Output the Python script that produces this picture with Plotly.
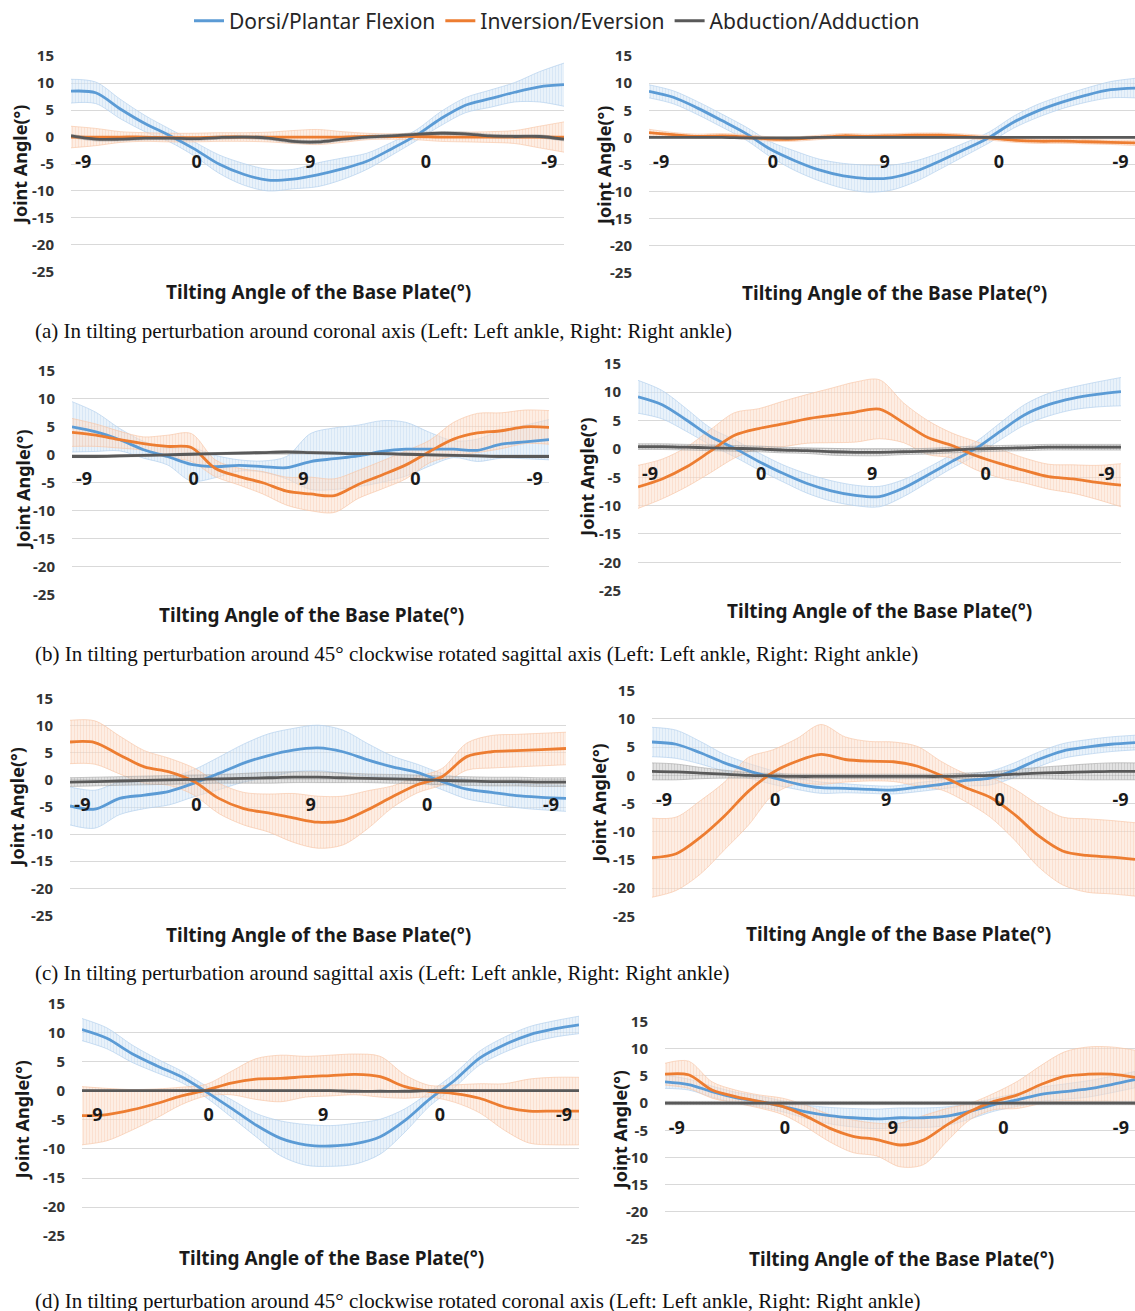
import plotly.graph_objects as go

W, H = 1135, 1321   # figure is a little taller than the window; the photo maps page y in [-9, 1321]

# ---------------- data (percent of perturbation cycle) ----------------
X = [0, 5, 10, 15, 20, 25, 30, 35, 40, 45, 50, 55, 60, 65, 70, 75, 80, 85, 90, 95, 100]
TICK_VALS = [2.5, 25.5, 48.5, 72, 97]
TICK_TEXT = ["-9", "0", "9", "0", "-9"]
SERIES = ["Dorsi/Plantar Flexion", "Inversion/Eversion", "Abduction/Adduction"]
Y_TICKS = [15, 10, 5, 0, -5, -10, -15, -20, -25]

# (a) coronal axis - left ankle
a_l_dpf = [8.5, 8.2, 5.2, 2.5, 0.3, -2.2, -5.0, -6.9, -8.0, -7.8, -7.0, -5.9, -4.5, -2.2, 0.3, 3.4, 5.9, 7.1, 8.3, 9.3, 9.7]
a_l_dpf_sd = [2.2, 2.0, 1.8, 1.5, 1.2, 1.3, 1.7, 2.0, 2.0, 1.8, 2.2, 2.0, 1.5, 1.2, 1.0, 1.3, 1.4, 1.6, 1.8, 2.8, 4.0]
a_l_ie = [0.0, 0.0, 0.0, 0.0, -0.1, -0.1, 0.0, 0.0, 0.0, 0.0, 0.0, 0.0, 0.1, 0.1, 0.1, 0.0, 0.0, 0.0, 0.0, 0.0, 0.0]
a_l_ie_sd = [2.0, 1.6, 1.0, 0.8, 0.8, 0.8, 0.8, 0.8, 0.9, 1.2, 1.4, 1.0, 0.6, 0.5, 0.6, 0.8, 0.9, 1.0, 1.2, 2.0, 2.8]
a_l_aa = [0.2, -0.4, -0.4, -0.2, -0.2, -0.3, -0.1, 0.0, -0.2, -0.8, -0.9, -0.4, 0.0, 0.2, 0.5, 0.7, 0.6, 0.2, 0.1, 0.1, -0.4]
a_l_aa_sd = [0.3, 0.3, 0.3, 0.3, 0.3, 0.3, 0.3, 0.3, 0.3, 0.3, 0.3, 0.3, 0.3, 0.3, 0.3, 0.3, 0.3, 0.3, 0.3, 0.3, 0.3]

# (a) coronal axis - right ankle
a_r_dpf = [8.5, 7.4, 5.4, 3.1, 0.7, -2.2, -4.3, -6.0, -7.1, -7.6, -7.4, -6.2, -4.3, -2.2, 0.0, 2.8, 4.9, 6.5, 7.8, 8.8, 9.1]
a_r_dpf_sd = [1.2, 1.2, 1.2, 1.2, 1.2, 1.4, 1.8, 2.0, 2.3, 2.5, 2.3, 1.9, 1.5, 1.2, 1.0, 1.1, 1.2, 1.2, 1.3, 1.5, 1.8]
a_r_ie = [0.9, 0.5, 0.2, 0.3, 0.1, -0.3, -0.3, 0.0, 0.3, 0.2, 0.3, 0.4, 0.4, 0.2, -0.1, -0.5, -0.7, -0.7, -0.8, -0.9, -1.0]
a_r_ie_sd = [0.6, 0.4, 0.4, 0.4, 0.4, 0.4, 0.4, 0.4, 0.4, 0.4, 0.4, 0.4, 0.4, 0.4, 0.4, 0.4, 0.4, 0.4, 0.4, 0.4, 0.5]
a_r_aa = [0.0, 0.0, 0.0, 0.0, -0.1, -0.1, -0.1, 0.0, 0.0, 0.0, 0.0, 0.0, 0.0, 0.0, 0.0, 0.0, 0.0, 0.0, 0.0, 0.0, 0.0]
a_r_aa_sd = [0.1, 0.1, 0.1, 0.1, 0.1, 0.1, 0.1, 0.1, 0.1, 0.1, 0.1, 0.1, 0.1, 0.1, 0.1, 0.1, 0.1, 0.1, 0.1, 0.1, 0.1]

# (b) 45 deg rotated sagittal axis - left ankle
b_l_dpf = [5.0, 4.1, 2.7, 0.9, -0.3, -1.7, -2.1, -1.9, -2.1, -2.3, -1.2, -0.7, -0.2, 0.6, 1.0, 1.0, 1.0, 0.8, 1.9, 2.3, 2.7]
b_l_dpf_sd = [4.5, 3.5, 2.0, 1.5, 1.5, 3.0, 2.0, 1.0, 1.0, 2.0, 5.0, 5.5, 5.5, 5.5, 4.8, 3.0, 1.5, 2.0, 2.5, 3.0, 3.6]
b_l_ie = [4.0, 3.5, 2.7, 2.0, 1.5, 1.3, -2.4, -3.9, -5.0, -6.5, -7.0, -7.3, -5.3, -3.6, -1.8, 0.6, 2.8, 3.9, 4.3, 5.0, 4.9]
b_l_ie_sd = [2.5, 2.0, 1.5, 1.2, 2.0, 2.5, 1.5, 1.5, 2.0, 2.5, 3.0, 3.0, 2.5, 2.5, 2.5, 2.0, 3.0, 3.5, 3.2, 3.0, 3.0]
b_l_aa = [-0.3, -0.3, -0.2, -0.1, 0.0, 0.1, 0.2, 0.3, 0.4, 0.5, 0.4, 0.3, 0.2, 0.2, 0.1, 0.0, -0.1, -0.2, -0.3, -0.3, -0.3]
b_l_aa_sd = [0.2, 0.2, 0.2, 0.2, 0.2, 0.2, 0.2, 0.2, 0.2, 0.2, 0.2, 0.2, 0.2, 0.2, 0.2, 0.2, 0.2, 0.2, 0.2, 0.2, 0.2]

# (b) 45 deg rotated sagittal axis - right ankle
b_r_dpf = [9.2, 7.8, 5.1, 2.2, 0.1, -2.2, -4.3, -6.1, -7.4, -8.2, -8.4, -6.9, -4.6, -2.2, 0.1, 3.1, 6.0, 7.8, 8.9, 9.6, 10.1]
b_r_dpf_sd = [2.9, 2.5, 2.0, 1.5, 1.5, 1.5, 1.5, 1.7, 1.8, 1.8, 1.8, 1.5, 1.3, 1.2, 1.2, 1.5, 1.8, 2.0, 2.0, 2.2, 2.5]
b_r_ie = [-6.7, -5.3, -3.2, -0.4, 2.4, 3.6, 4.4, 5.3, 5.9, 6.5, 7.0, 4.6, 2.0, 0.6, -1.2, -2.6, -3.8, -4.9, -5.3, -5.9, -6.4]
b_r_ie_sd = [3.8, 3.5, 3.5, 3.8, 4.0, 3.5, 4.0, 4.3, 4.8, 5.3, 5.2, 3.5, 3.0, 2.2, 2.5, 2.5, 2.2, 2.2, 2.5, 3.0, 3.8]
b_r_aa = [0.4, 0.4, 0.3, 0.2, 0.1, 0.0, -0.2, -0.3, -0.5, -0.6, -0.6, -0.5, -0.4, -0.2, 0.0, 0.1, 0.2, 0.3, 0.3, 0.3, 0.3]
b_r_aa_sd = [0.5, 0.5, 0.5, 0.5, 0.5, 0.5, 0.5, 0.5, 0.6, 0.6, 0.6, 0.5, 0.5, 0.5, 0.5, 0.5, 0.5, 0.5, 0.5, 0.5, 0.5]

# (c) sagittal axis - left ankle
c_l_dpf = [-4.8, -5.4, -3.4, -2.8, -2.1, -0.6, 1.2, 3.1, 4.5, 5.5, 5.9, 5.2, 3.7, 2.4, 1.4, -0.3, -1.7, -2.3, -2.9, -3.2, -3.4]
c_l_dpf_sd = [3.5, 3.5, 3.0, 2.5, 2.5, 2.5, 3.0, 3.5, 4.0, 4.0, 4.2, 4.0, 3.0, 2.0, 1.5, 1.5, 1.8, 2.0, 2.2, 2.3, 2.4]
c_l_ie = [7.0, 6.9, 4.6, 2.4, 1.5, -0.3, -3.4, -5.3, -6.1, -7.0, -7.8, -7.5, -5.5, -3.1, -0.9, 0.6, 4.3, 5.2, 5.4, 5.6, 5.8]
c_l_ie_sd = [4.0, 4.0, 3.5, 3.0, 2.5, 2.5, 2.8, 3.0, 3.5, 4.5, 4.8, 4.5, 3.5, 2.0, 1.5, 1.5, 2.5, 3.0, 3.0, 3.0, 3.0]
c_l_aa = [-0.4, -0.3, -0.2, -0.1, 0.0, 0.1, 0.2, 0.3, 0.4, 0.5, 0.5, 0.4, 0.3, 0.2, 0.1, -0.1, -0.2, -0.3, -0.3, -0.4, -0.4]
c_l_aa_sd = [0.8, 0.8, 0.8, 0.8, 0.8, 0.8, 0.8, 0.9, 1.0, 1.0, 1.0, 0.9, 0.8, 0.8, 0.8, 0.8, 0.8, 0.8, 0.8, 0.8, 0.8]

# (c) sagittal axis - right ankle
c_r_dpf = [5.9, 5.5, 4.0, 2.2, 0.8, -0.4, -1.5, -2.2, -2.3, -2.5, -2.6, -2.1, -1.6, -0.9, -0.5, 0.9, 2.8, 4.3, 5.0, 5.5, 5.8]
c_r_dpf_sd = [2.6, 2.5, 2.0, 1.5, 1.3, 1.2, 1.0, 1.0, 0.8, 0.7, 0.7, 0.8, 0.8, 1.0, 1.2, 1.3, 1.3, 1.3, 1.3, 1.3, 1.3]
c_r_ie = [-14.6, -13.9, -11.0, -7.2, -2.8, 0.5, 2.5, 3.7, 2.8, 2.5, 2.4, 1.6, -0.1, -2.2, -3.9, -6.9, -10.7, -13.4, -14.2, -14.5, -14.9]
c_r_ie_sd = [7.0, 6.5, 6.5, 6.0, 6.0, 4.0, 4.0, 5.3, 4.0, 3.5, 3.5, 3.5, 2.5, 2.5, 3.5, 4.5, 5.5, 6.0, 6.5, 6.5, 6.5]
c_r_aa = [0.7, 0.6, 0.4, 0.2, 0.0, -0.1, -0.2, -0.2, -0.2, -0.2, -0.2, -0.2, -0.2, -0.1, 0.0, 0.2, 0.4, 0.5, 0.6, 0.7, 0.7]
c_r_aa_sd = [1.5, 1.4, 1.0, 0.7, 0.5, 0.4, 0.4, 0.4, 0.4, 0.4, 0.4, 0.4, 0.4, 0.5, 0.6, 0.8, 1.0, 1.2, 1.4, 1.5, 1.5]

# (d) 45 deg rotated coronal axis - left ankle
d_l_dpf = [10.5, 9.0, 6.4, 4.3, 2.4, -0.2, -3.0, -5.9, -8.2, -9.3, -9.5, -9.1, -7.9, -5.1, -1.4, 1.8, 5.6, 7.9, 9.6, 10.6, 11.3]
d_l_dpf_sd = [1.9, 1.8, 1.5, 1.2, 1.0, 1.0, 1.5, 2.0, 3.0, 3.5, 3.5, 3.5, 3.0, 2.0, 1.2, 1.2, 1.2, 1.3, 1.4, 1.4, 1.5]
d_l_ie = [-4.3, -4.1, -3.3, -2.2, -0.9, 0.1, 1.3, 2.0, 2.1, 2.4, 2.6, 2.8, 2.4, 0.7, -0.1, -0.5, -1.3, -2.8, -3.5, -3.5, -3.5]
d_l_ie_sd = [5.0, 4.5, 3.5, 2.5, 1.5, 1.0, 2.0, 3.5, 4.0, 3.5, 3.5, 3.5, 3.5, 2.0, 1.0, 1.5, 2.5, 4.0, 5.5, 5.8, 5.8]
d_l_aa = [0.0, 0.0, 0.0, 0.0, 0.0, 0.0, 0.0, 0.0, 0.0, 0.0, 0.0, -0.1, -0.1, -0.1, 0.0, 0.0, 0.0, 0.0, 0.0, 0.0, 0.0]
d_l_aa_sd = [0.1, 0.1, 0.1, 0.1, 0.1, 0.1, 0.1, 0.1, 0.1, 0.1, 0.1, 0.1, 0.1, 0.1, 0.1, 0.1, 0.1, 0.1, 0.1, 0.1, 0.1]

# (d) 45 deg rotated coronal axis - right ankle
d_r_dpf = [3.9, 3.4, 2.1, 1.0, 0.3, -0.6, -1.6, -2.3, -2.7, -2.9, -2.7, -2.7, -2.4, -1.5, -0.3, 0.6, 1.6, 2.1, 2.6, 3.4, 4.3]
d_r_dpf_sd = [1.2, 1.0, 1.0, 1.0, 1.0, 1.0, 1.2, 1.5, 1.7, 1.8, 1.8, 1.8, 1.7, 1.4, 1.2, 1.2, 1.3, 1.4, 1.5, 1.5, 1.5]
d_r_ie = [5.3, 5.2, 2.4, 1.2, 0.3, -0.6, -2.4, -4.6, -6.1, -6.7, -7.7, -6.8, -4.0, -1.5, 0.3, 1.5, 3.4, 4.9, 5.3, 5.3, 4.7]
d_r_ie_sd = [2.0, 2.5, 1.5, 1.2, 1.2, 1.5, 2.0, 2.5, 3.0, 3.0, 4.0, 4.5, 3.0, 1.5, 1.5, 2.5, 3.5, 4.5, 5.0, 5.0, 5.0]
d_r_aa = [0.0, 0.0, 0.0, 0.0, 0.0, 0.0, 0.0, 0.0, 0.0, 0.0, 0.0, 0.0, 0.0, 0.0, 0.0, 0.0, 0.0, 0.0, 0.0, 0.0, 0.0]
d_r_aa_sd = [0.3, 0.3, 0.3, 0.3, 0.3, 0.3, 0.3, 0.3, 0.3, 0.3, 0.3, 0.3, 0.3, 0.3, 0.3, 0.3, 0.3, 0.3, 0.3, 0.3, 0.3]

PANELS = [
    [(a_l_dpf, a_l_dpf_sd), (a_l_ie, a_l_ie_sd), (a_l_aa, a_l_aa_sd)],
    [(a_r_dpf, a_r_dpf_sd), (a_r_ie, a_r_ie_sd), (a_r_aa, a_r_aa_sd)],
    [(b_l_dpf, b_l_dpf_sd), (b_l_ie, b_l_ie_sd), (b_l_aa, b_l_aa_sd)],
    [(b_r_dpf, b_r_dpf_sd), (b_r_ie, b_r_ie_sd), (b_r_aa, b_r_aa_sd)],
    [(c_l_dpf, c_l_dpf_sd), (c_l_ie, c_l_ie_sd), (c_l_aa, c_l_aa_sd)],
    [(c_r_dpf, c_r_dpf_sd), (c_r_ie, c_r_ie_sd), (c_r_aa, c_r_aa_sd)],
    [(d_l_dpf, d_l_dpf_sd), (d_l_ie, d_l_ie_sd), (d_l_aa, d_l_aa_sd)],
    [(d_r_dpf, d_r_dpf_sd), (d_r_ie, d_r_ie_sd), (d_r_aa, d_r_aa_sd)],
]

CAPTIONS = [
    "(a) In tilting perturbation around coronal axis (Left: Left ankle, Right: Right ankle)",
    "(b) In tilting perturbation around 45° clockwise rotated sagittal axis (Left: Left ankle, Right: Right ankle)",
    "(c) In tilting perturbation around sagittal axis (Left: Left ankle, Right: Right ankle)",
    "(d) In tilting perturbation around 45° clockwise rotated coronal axis (Left: Left ankle, Right: Right ankle)",
]

# ---------------- layout geometry (target pixels in the photo) ----------------
# plot box: left, right, top (y=15), bottom (y=-25)
BOX = [
    (71, 564, 54, 270), (649, 1135, 54, 271),
    (72, 549, 369, 593), (638, 1121, 362, 589),
    (70, 566, 697, 914), (652, 1135, 689, 915),
    (82, 579, 1002, 1235), (665, 1135, 1020, 1238),
]
YTITLE_POS = [(20, 163), (604, 164), (23, 488), (587, 476), (17, 806), (599, 802), (22, 1119), (620, 1129)]
XTITLE_POS = [(318, 290), (894, 291), (311, 613), (879, 609), (318, 934), (898, 933), (331, 1257), (901, 1258)]
CAPTION_Y = [329, 652, 972, 1300]
LEGEND_Y = 19

# the photo shows page rows [-9, 1321] squeezed into 1311 rows
PHOTO_SCALE, PHOTO_TOP = 0.9856, -9.0


def py(y):
    """target photo row -> page row"""
    return y / PHOTO_SCALE + PHOTO_TOP


def fy(y):
    """target photo row -> paper fraction"""
    return 1 - py(y) / H


LINE_COLORS = ["#5B9BD5", "#ED7D31", "#595959"]
BAND_FILL = ["rgba(214,230,246,0.55)", "rgba(251,224,205,0.55)", "rgba(190,190,190,0.45)"]
BAND_HATCH = ["rgba(170,202,235,0.55)", "rgba(246,190,155,0.55)", "rgba(140,140,140,0.5)"]
BAND_EDGE = ["rgba(176,206,236,0.8)", "rgba(247,196,165,0.8)", "rgba(160,160,160,0.7)"]

FONT = "Noto Sans"

fig = go.Figure()
layout = {}

for p, series in enumerate(PANELS):
    ax = "" if p == 0 else str(p + 1)
    xref, yref = "x" + ax, "y" + ax
    L, R, T, B = BOX[p]
    zero_px = T + (B - T) * 15 / 40
    layout["xaxis" + ax] = dict(
        domain=[L / W, R / W], range=[0, 100], anchor="free", position=fy(zero_px),
        showgrid=False, zeroline=False, showline=False,
        tickmode="array", tickvals=TICK_VALS, ticktext=TICK_TEXT,
        ticks="outside", ticklen=8, tickcolor="rgba(0,0,0,0)",
        tickfont=dict(family=FONT, size=18, color="#1a1a1a", weight="bold"),
    )
    layout["yaxis" + ax] = dict(
        domain=[fy(B), fy(T)], range=[-25, 15], anchor=xref,
        tickmode="array", tickvals=Y_TICKS, ticktext=[str(v) for v in Y_TICKS],
        showgrid=True, gridcolor="#D9D9D9", gridwidth=1, zeroline=False, showline=False,
        ticks="outside", ticklen=13, tickcolor="rgba(0,0,0,0)",
        tickfont=dict(family=FONT, size=15, color="#333333", weight="bold"),
    )
    # bands (mean +/- SD)
    for s, (mean, sd) in enumerate(series):
        upper = [m + d for m, d in zip(mean, sd)]
        lower = [m - d for m, d in zip(mean, sd)]
        fig.add_trace(go.Scatter(
            x=X, y=upper, xaxis=xref, yaxis=yref, mode="lines",
            line=dict(color=BAND_EDGE[s], width=0.8, shape="spline", smoothing=0.9),
            showlegend=False, hoverinfo="skip"))
        fig.add_trace(go.Scatter(
            x=X, y=lower, xaxis=xref, yaxis=yref, mode="lines", fill="tonexty",
            fillcolor=BAND_FILL[s],
            fillpattern=dict(shape="|", fgcolor=BAND_HATCH[s], bgcolor=BAND_FILL[s], size=3, solidity=0.35),
            line=dict(color=BAND_EDGE[s], width=0.8, shape="spline", smoothing=0.9),
            showlegend=False, hoverinfo="skip"))
    # mean lines
    for s, (mean, sd) in enumerate(series):
        fig.add_trace(go.Scatter(
            x=X, y=mean, xaxis=xref, yaxis=yref, mode="lines", name=SERIES[s],
            legendgroup=SERIES[s], showlegend=(p == 0),
            line=dict(color=LINE_COLORS[s], width=2.8, shape="spline", smoothing=0.9)))

annotations = []
for p in range(8):
    xc, yc = YTITLE_POS[p]
    annotations.append(dict(
        text="Joint Angle(°)", x=xc / W, y=fy(yc), xref="paper", yref="paper",
        xanchor="center", yanchor="middle", textangle=-90, showarrow=False,
        font=dict(family=FONT, size=18, color="#1a1a1a", weight="bold")))
    xc, yc = XTITLE_POS[p]
    annotations.append(dict(
        text="Tilting Angle of the Base Plate(°)", x=xc / W, y=fy(yc), xref="paper", yref="paper",
        xanchor="center", yanchor="middle", showarrow=False,
        font=dict(family=FONT, size=19, color="#1a1a1a", weight="bold")))
for i, cap in enumerate(CAPTIONS):
    annotations.append(dict(
        text=cap, x=33 / W, y=fy(CAPTION_Y[i]), xref="paper", yref="paper",
        xanchor="left", yanchor="middle", showarrow=False,
        font=dict(family="Liberation Serif", size=21, color="#111111")))

fig.update_layout(
    width=W, height=H, margin=dict(l=0, r=0, t=0, b=0),
    paper_bgcolor="white", plot_bgcolor="white",
    showlegend=True,
    legend=dict(orientation="h", x=557 / W, xanchor="center", y=fy(LEGEND_Y), yanchor="middle",
                font=dict(family=FONT, size=21, color="#262626"), itemwidth=30,
                bgcolor="rgba(0,0,0,0)", tracegroupgap=0),
    annotations=annotations,
    **layout,
)

POST = (
    "var gd=document.querySelector('.plotly-graph-div');"
    "document.documentElement.style.margin='0';document.body.style.margin='0';"
    "document.body.style.padding='0';"
    "document.documentElement.style.overflow='hidden';document.body.style.overflow='hidden';"
    "if(gd){gd.style.position='absolute';gd.style.top='0';gd.style.left='0';}"
)

fig.write_html("out.html", config={"displayModeBar": False}, post_script=POST)
